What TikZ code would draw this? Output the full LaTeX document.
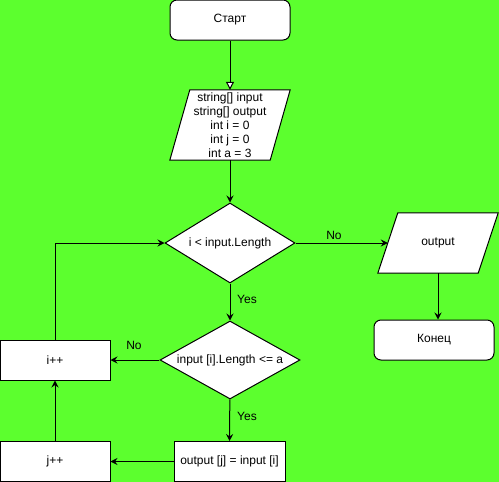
\documentclass[tikz,border=0pt]{standalone}
\usepackage{fontspec}
\setmainfont{Liberation Sans}
\usetikzlibrary{shapes.geometric,arrows.meta,backgrounds}
\definecolor{canvas}{RGB}{92,255,46}
\begin{document}
\begin{tikzpicture}[x=1pt,y=-1pt,
  font=\fontsize{12}{14}\selectfont,
  every node/.style={inner sep=0pt},
  term/.style={draw, fill=white, rounded corners=7pt, minimum width=120pt, minimum height=40pt, line width=1pt},
  proc/.style={draw, fill=white, minimum width=110pt, minimum height=40pt, line width=1pt},
  iobody/.style={minimum width=120pt, minimum height=#1, align=center},
  cond/.style={draw, fill=white, diamond, line width=1pt},
  flow/.style={line width=1pt, -{Stealth[length=7pt,width=7pt,inset=2.5pt]}},
  lbl/.style={inner sep=0pt}
]
\begin{scope}[on background layer]
  \fill[canvas] (0,0) rectangle (499,482);
\end{scope}
\useasboundingbox (0,0) rectangle (499,482);

% blocks
\node[term] (start) at (230,20) {Старт};
\node[iobody=70pt] (vars) at (230,125) {string[] input\\string[] output\\int i = 0\\int j = 0\\int a = 3};
\node[cond, minimum width=130pt, minimum height=80pt, aspect=1.625] (loop) at (230,243) {i < input.Length};
\node[iobody=60pt] (out) at (438,243) {output};
\node[term] (end) at (434,340) {Конец};
\node[cond, minimum width=140pt, minimum height=78pt, aspect=1.8] (check) at (230,360) {input [i].Length <= a};
\node[proc] (inc) at (55,360) {i++};
\node[proc, minimum width=111pt] (copy) at (229.5,461.5) {output [j] = input [i]};
\node[proc] (incj) at (55,461.5) {j++};

% input/output parallelograms
\begin{scope}[on background layer]
  \foreach \n in {vars,out}
    \draw[line width=1pt, fill=white] ([xshift=20pt]\n.north west) -- (\n.north east)
      -- ([xshift=-20pt]\n.south east) -- (\n.south west) -- cycle;
\end{scope}

% connectors
\draw[line width=1pt, -{Triangle[open,length=8pt,width=8pt,fill=white]}] (start) -- (vars);
\draw[flow] (vars) -- (loop);
\draw[flow] (loop.east) -- ([xshift=10pt]out.west);
\draw[flow] (out.south) -- (out.south |- end.north);
\draw[flow] (loop) -- (check);
\draw[flow] (check) -- (inc);
\draw[flow] (check) -- (copy);
\draw[flow] (copy) -- (incj);
\draw[flow] (incj) -- (inc);
\draw[flow] (inc.north) |- (loop.west);

% branch labels
\node[lbl] (no1) at (334,235) {No};
\node[lbl] (yes1) at (247,299) {Yes};
\node[lbl] (no2) at (134,345) {No};
\node[lbl] (yes2) at (247,416) {Yes};
\end{tikzpicture}
\end{document}
